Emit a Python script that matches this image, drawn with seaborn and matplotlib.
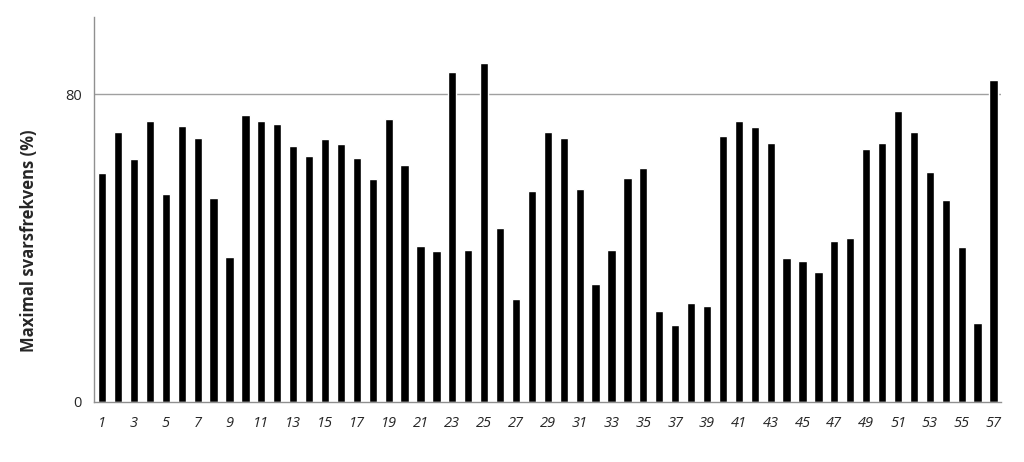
import numpy as np
import pandas as pd
import matplotlib
matplotlib.use('Agg')
import matplotlib.pyplot as plt
import seaborn as sns

# 값은 그림에서 읽어낸 추정치
items = [str(i) for i in range(1, 58)]
svarsfrekvens = [
    59.5, 70.2, 63.1, 73.0, 54.0, 71.7, 68.5, 52.9, 37.7, 74.5,
    73.0, 72.3, 66.6, 63.9, 68.3, 67.1, 63.4, 57.9, 73.6, 61.5,
    40.5, 39.2, 85.7, 39.4, 88.2, 45.2, 26.8, 54.8, 70.2, 68.5,
    55.3, 30.6, 39.4, 58.3, 60.9, 23.7, 19.9, 25.8, 24.9, 69.2,
    73.0, 71.4, 67.3, 37.4, 36.5, 33.7, 41.7, 42.7, 65.7, 67.3,
    75.6, 70.2, 59.7, 52.6, 40.3, 20.4, 83.7,
]
y_ticks = [0, 80]

df = pd.DataFrame({'item': items, 'value': svarsfrekvens})

sns.set_style('white')
plt.rcParams['font.family'] = ['Open Sans', 'DejaVu Sans']

fig = plt.figure(figsize=(10.24, 4.62), dpi=100)
ax = fig.add_axes([0.092, 0.130, 0.886, 0.833])

sns.barplot(data=df, x='item', y='value', order=items, color='black',
            width=0.52, saturation=1, ax=ax)

ax.set_xlim(-0.5, len(items) - 0.5)
ax.set_ylim(0, 100)

# y축: 0, 80 눈금 + 80 기준선
ax.set_yticks(y_ticks)
ax.set_yticklabels([str(v) for v in y_ticks], fontsize=10.5)
ax.axhline(80, color='#a0a0a0', lw=1, zorder=0)
ax.tick_params(axis='y', length=0, pad=9)

# x축: 홀수 번호만 라벨, 경계마다 작은 눈금
ax.set_xticks(range(0, len(items), 2))
ax.set_xticklabels(items[::2], fontsize=10.5, style='italic')
ax.set_xticks(np.arange(-0.5, len(items), 1), minor=True)
ax.tick_params(axis='x', which='major', length=0, pad=10)
ax.tick_params(axis='x', which='minor', length=5, width=1, color='#909090', direction='out')

for side in ['top', 'right']:
    ax.spines[side].set_visible(False)
for side in ['left', 'bottom']:
    ax.spines[side].set_color('#909090')
    ax.spines[side].set_linewidth(1)

ax.set_xlabel('')
ax.set_ylabel('Maximal svarsfrekvens (%)', fontsize=12, fontweight='bold')
ax.yaxis.set_label_coords(-0.062, 0.42)

fig.savefig('out.png', dpi=100)
